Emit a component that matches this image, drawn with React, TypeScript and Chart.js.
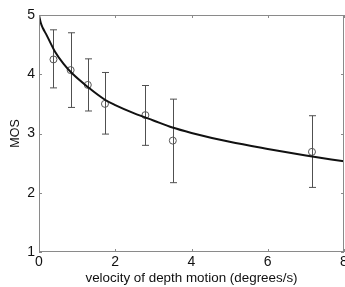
import React, { useEffect, useRef } from "react";
import { Chart, registerables } from "chart.js";

Chart.register(...registerables);

// Measured data (circles with error bars)
const velocity = [0.38, 0.83, 1.28, 1.73, 2.79, 3.51, 7.16];
const mos = [4.25, 4.07, 3.82, 3.5, 3.31, 2.88, 2.69];
const mosUpper = [4.75, 4.7, 4.26, 4.03, 3.81, 3.58, 3.3];
const mosLower = [3.77, 3.44, 3.38, 2.99, 2.8, 2.17, 2.09];

// Fitted curve
const fitVelocity = [0, 0.05, 0.1, 0.2, 0.3, 0.42, 0.64, 0.86, 1.29, 1.73, 2.0, 2.5, 3.0, 3.5, 4.0, 5.0, 6.0, 7.0, 8.0];
const fitMos = [5.0, 4.86, 4.78, 4.66, 4.53, 4.38, 4.18, 4.02, 3.78, 3.57, 3.48, 3.34, 3.22, 3.1, 3.01, 2.86, 2.74, 2.63, 2.53];

const xTicks = [0, 2, 4, 6, 8];
const yTicks = [1, 2, 3, 4, 5];

const FONT = "Arial, 'Liberation Sans', sans-serif";

const boxPlugin = {
  id: "matlabBox",
  beforeDatasetsDraw(chart: any) {
    const { ctx, scales } = chart;
    const xs = scales.x;
    const ys = scales.y;
    ctx.save();
    ctx.strokeStyle = "#505050";
    ctx.lineWidth = 1;
    const cap = 3.5;
    for (let i = 0; i < velocity.length; i++) {
      const px = Math.round(xs.getPixelForValue(velocity[i])) + 0.5;
      const top = ys.getPixelForValue(mosUpper[i]);
      const bot = ys.getPixelForValue(mosLower[i]);
      ctx.beginPath();
      ctx.moveTo(px, top);
      ctx.lineTo(px, bot);
      ctx.moveTo(px - cap, top);
      ctx.lineTo(px + cap, top);
      ctx.moveTo(px - cap, bot);
      ctx.lineTo(px + cap, bot);
      ctx.stroke();
    }
    ctx.restore();
  },
  afterDatasetsDraw(chart: any) {
    const { ctx, chartArea, scales } = chart;
    const { left, right, top, bottom } = chartArea;
    ctx.save();
    ctx.strokeStyle = "#8a8a8a";
    ctx.lineWidth = 1;
    ctx.strokeRect(Math.round(left) + 0.5, Math.round(top) + 0.5, Math.round(right - left) - 1, Math.round(bottom - top) - 1);
    const tl = 3;
    ctx.beginPath();
    xTicks.forEach((v) => {
      const px = Math.round(scales.x.getPixelForValue(v)) + 0.5;
      ctx.moveTo(px, bottom);
      ctx.lineTo(px, bottom - tl);
      ctx.moveTo(px, top);
      ctx.lineTo(px, top + tl);
    });
    yTicks.forEach((v) => {
      const py = Math.round(scales.y.getPixelForValue(v)) + 0.5;
      ctx.moveTo(left, py);
      ctx.lineTo(left + tl, py);
      ctx.moveTo(right, py);
      ctx.lineTo(right - tl, py);
    });
    ctx.stroke();
    ctx.restore();
  },
};

export default function App() {
  const ref = useRef<HTMLCanvasElement>(null);

  useEffect(() => {
    document.body.style.margin = "0";
    const canvas = ref.current;
    if (!canvas) return;
    const chart = new Chart(canvas, {
      type: "scatter",
      data: {
        datasets: [
          {
            label: "fit",
            type: "line",
            data: fitVelocity.map((x, i) => ({ x, y: fitMos[i] })),
            borderColor: "#111",
            borderWidth: 2,
            pointRadius: 0,
            pointHoverRadius: 0,
            fill: false,
            cubicInterpolationMode: "monotone",
            order: 1,
          } as any,
          {
            label: "MOS",
            data: velocity.map((x, i) => ({ x, y: mos[i] })),
            pointStyle: "circle",
            pointRadius: 3.5,
            borderColor: "#555",
            borderWidth: 1,
            backgroundColor: "rgba(0,0,0,0)",
            order: 2,
          },
        ],
      },
      options: {
        responsive: false,
        animation: false,
        layout: { autoPadding: false, padding: { top: 15, right: 1, left: 0, bottom: 0 } },
        plugins: { legend: { display: false }, tooltip: { enabled: false } },
        scales: {
          x: {
            type: "linear",
            min: 0,
            max: 8,
            afterBuildTicks: (s: any) => {
              s.ticks = xTicks.map((v) => ({ value: v }));
            },
            ticks: { color: "#111", font: { family: FONT, size: 14 }, padding: 2, maxRotation: 0 },
            grid: { display: false, drawTicks: false },
            border: { display: false },
            title: {
              display: true,
              text: "velocity of depth motion (degrees/s)",
              color: "#111",
              font: { family: FONT, size: 13.4 },
              padding: { top: 0, bottom: 1 },
            },
            afterFit: (s: any) => {
              s.height = 35;
              s.paddingLeft = 0;
              s.paddingRight = 0;
            },
          },
          y: {
            type: "linear",
            min: 1,
            max: 5,
            afterBuildTicks: (s: any) => {
              s.ticks = yTicks.map((v) => ({ value: v }));
            },
            ticks: { color: "#111", font: { family: FONT, size: 14 }, padding: 4 },
            grid: { display: false, drawTicks: false },
            border: { display: false },
            title: {
              display: true,
              text: "MOS",
              color: "#111",
              font: { family: FONT, size: 12.5 },
              padding: { top: 8, bottom: 0 },
            },
            afterFit: (s: any) => {
              s.width = 39;
              s.paddingTop = 0;
              s.paddingBottom = 0;
            },
          },
        },
      },
      plugins: [boxPlugin],
    });
    return () => chart.destroy();
  }, []);

  return (
    <div style={{ width: 345, height: 287 }}>
      <canvas ref={ref} width={345} height={287} style={{ display: "block" }} />
    </div>
  );
}
